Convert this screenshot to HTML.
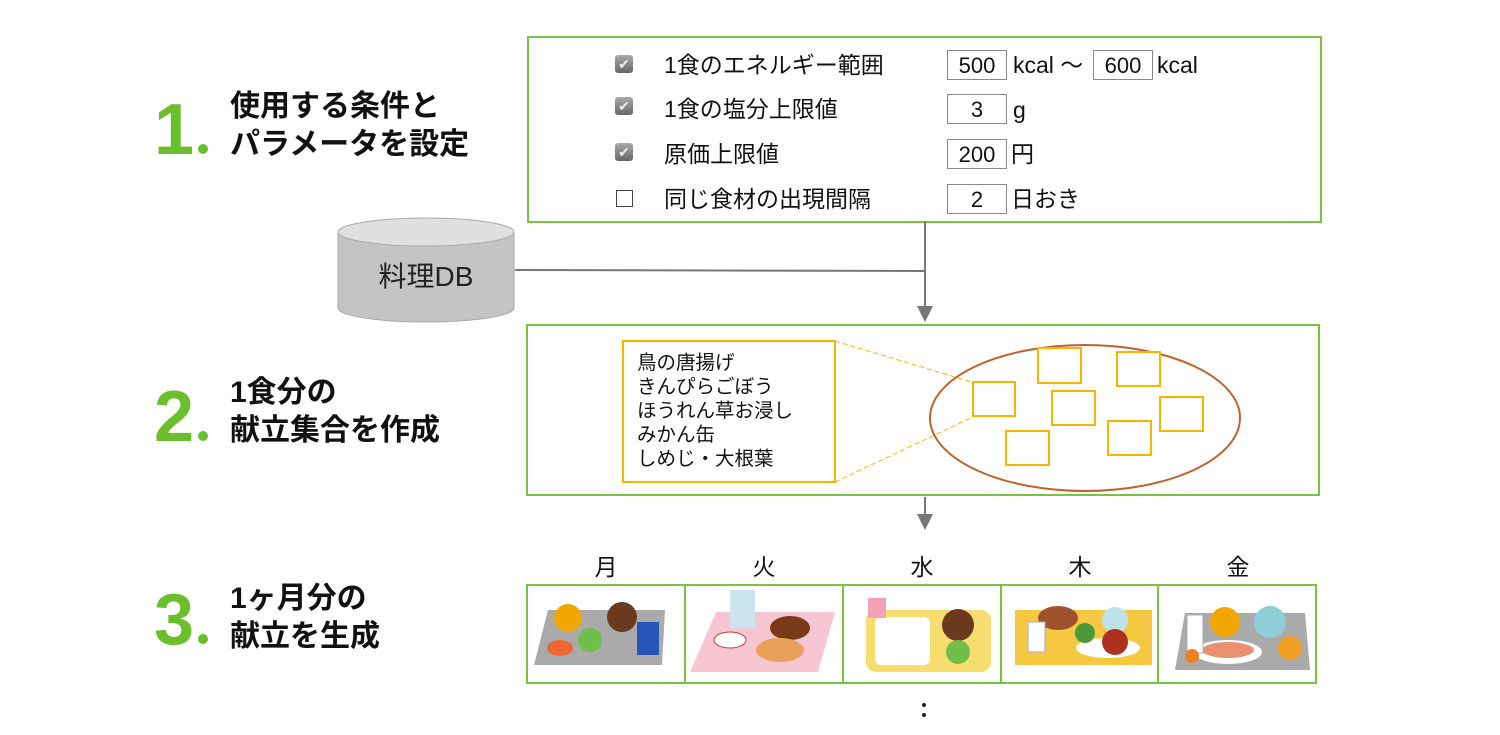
<!DOCTYPE html>
<html><head><meta charset="utf-8"><style>
body{margin:0;width:1500px;height:735px;background:#fff;position:relative;overflow:hidden;font-family:"Liberation Sans","Noto Sans CJK JP",sans-serif;color:#111}
.a{position:absolute}
.num{position:absolute;color:#6cbf2c;font-weight:bold;font-size:72px;line-height:72px}
.dot{display:inline-block;width:10px;height:10px;border-radius:50%;background:#6cbf2c;margin-left:4px}
.h{position:absolute;font-weight:bold;font-size:30px;line-height:38px}
.row{position:absolute;font-size:23px;line-height:28px}
.in{position:absolute;border:1.5px solid #888;height:30px;font-size:22px;line-height:30px;text-align:center;box-sizing:border-box}
.cb{position:absolute;width:18px;height:18px;border-radius:3px;background:linear-gradient(#aaa,#666);color:#eee;font-size:14px;line-height:18px;text-align:center}
.day{position:absolute;top:548px;font-size:23px;width:40px;text-align:center}
</style></head><body>
<div class="num" style="left:154px;top:94px">1<span class="dot"></span></div>
<div class="h" style="left:230px;top:88px">使用する条件と<br>パラメータを設定</div>
<div class="num" style="left:154px;top:381px">2<span class="dot"></span></div>
<div class="h" style="left:230px;top:374px">1食分の<br>献立集合を作成</div>
<div class="num" style="left:154px;top:584px">3<span class="dot"></span></div>
<div class="h" style="left:230px;top:580px">1ヶ月分の<br>献立を生成</div>

<div class="a" style="left:527px;top:36px;width:791px;height:183px;border:2px solid #7cc242"></div>
<div class="cb" style="left:615px;top:55px">✔</div>
<div class="cb" style="left:615px;top:97px">✔</div>
<div class="cb" style="left:615px;top:143px">✔</div>
<div class="a" style="left:616px;top:190px;width:15px;height:15px;border:1.5px solid #444"></div>
<div class="row" style="left:664px;top:51px">1食のエネルギー範囲</div>
<div class="row" style="left:664px;top:95px">1食の塩分上限値</div>
<div class="row" style="left:664px;top:140px">原価上限値</div>
<div class="row" style="left:664px;top:185px">同じ食材の出現間隔</div>
<div class="in" style="left:947px;top:50px;width:60px">500</div>
<div class="row" style="left:1013px;top:51px">kcal ～</div>
<div class="in" style="left:1093px;top:50px;width:60px">600</div>
<div class="row" style="left:1157px;top:51px">kcal</div>
<div class="in" style="left:947px;top:94px;width:60px">3</div>
<div class="row" style="left:1013px;top:96px">g</div>
<div class="in" style="left:947px;top:139px;width:60px">200</div>
<div class="row" style="left:1011px;top:140px">円</div>
<div class="in" style="left:947px;top:184px;width:60px">2</div>
<div class="row" style="left:1011px;top:185px">日おき</div>

<svg class="a" style="left:0;top:0" width="1500" height="735">
<defs><marker id="ar" markerWidth="8" markerHeight="8" refX="6" refY="4" orient="auto"><path d="M0,0L8,4L0,8z" fill="#777"/></marker></defs>
<path d="M338,232V308A88,14 0 0 0 514,308V232" fill="#c4c4c4" stroke="#aaa"/>
<ellipse cx="426" cy="232" rx="88" ry="14" fill="#e0e0e0" stroke="#aaa"/>
<text x="426" y="286" font-size="28" text-anchor="middle" font-family="Liberation Sans,Noto Sans CJK JP,sans-serif" fill="#222">料理DB</text>
<line x1="515" y1="270" x2="925" y2="271" stroke="#777" stroke-width="2"/>
<line x1="925" y1="221" x2="925" y2="318" stroke="#777" stroke-width="2" marker-end="url(#ar)"/>
<line x1="925" y1="497" x2="925" y2="526" stroke="#777" stroke-width="2" marker-end="url(#ar)"/>
<rect x="527" y="325" width="792" height="170" fill="none" stroke="#7cc242" stroke-width="2"/>
<rect x="623" y="341" width="212" height="141" fill="none" stroke="#f7b500" stroke-width="2"/>
<line x1="835" y1="341" x2="975" y2="383" stroke="#f7b500" stroke-dasharray="5,3"/>
<line x1="835" y1="482" x2="975" y2="416" stroke="#f7b500" stroke-dasharray="5,3"/>
<ellipse cx="1085" cy="418" rx="155" ry="73" fill="none" stroke="#c0622a" stroke-width="2"/>
<g fill="#fff" stroke="#f7b500" stroke-width="2">
<rect x="973" y="382" width="42" height="34"/><rect x="1038" y="348" width="43" height="35"/>
<rect x="1117" y="352" width="43" height="34"/><rect x="1052" y="391" width="43" height="34"/>
<rect x="1160" y="397" width="43" height="34"/><rect x="1108" y="421" width="43" height="34"/>
<rect x="1006" y="431" width="43" height="34"/></g>
<text font-size="19.5" font-family="Liberation Sans,Noto Sans CJK JP,sans-serif" fill="#111">
<tspan x="637" y="369">鳥の唐揚げ</tspan><tspan x="637" y="393">きんぴらごぼう</tspan><tspan x="637" y="417">ほうれん草お浸し</tspan><tspan x="637" y="441">みかん缶</tspan><tspan x="637" y="465">しめじ・大根葉</tspan></text>
<g fill="none" stroke="#7cc242" stroke-width="2">
<rect x="527" y="585" width="789" height="98"/>
<line x1="685" y1="585" x2="685" y2="683"/><line x1="843" y1="585" x2="843" y2="683"/>
<line x1="1001" y1="585" x2="1001" y2="683"/><line x1="1158" y1="585" x2="1158" y2="683"/></g>
<polygon points="548,610 665,610 662,665 534,665" fill="#aaa"/>
<circle cx="568" cy="618" r="14" fill="#f0a500"/><circle cx="622" cy="617" r="15" fill="#6b3a1e"/>
<circle cx="590" cy="640" r="12" fill="#6fbf4a"/><rect x="637" y="622" width="22" height="33" fill="#2855b8"/><ellipse cx="560" cy="648" rx="13" ry="8" fill="#e63"/>
<polygon points="716,612 835,612 818,672 690,672" fill="#f7c6d3"/>
<rect x="730" y="590" width="25" height="38" fill="#cde4ef"/><ellipse cx="790" cy="628" rx="20" ry="12" fill="#7a3a1a"/>
<ellipse cx="780" cy="650" rx="24" ry="12" fill="#e8a05a"/><ellipse cx="730" cy="640" rx="16" ry="8" fill="#fff" stroke="#c33"/>
<rect x="866" y="610" width="125" height="62" rx="10" fill="#f7dc6f"/>
<rect x="875" y="617" width="55" height="48" rx="6" fill="#fff"/><circle cx="958" cy="625" r="16" fill="#6b3a1e"/>
<circle cx="958" cy="652" r="12" fill="#6fbf4a"/><rect x="868" y="598" width="18" height="20" fill="#f2a2b4"/>
<rect x="1015" y="610" width="137" height="55" fill="#f5c842"/>
<ellipse cx="1058" cy="618" rx="20" ry="12" fill="#a0522d"/><circle cx="1115" cy="620" r="13" fill="#bde3ea"/>
<ellipse cx="1108" cy="648" rx="32" ry="10" fill="#fff"/><circle cx="1115" cy="642" r="13" fill="#b03020"/>
<rect x="1028" y="622" width="17" height="30" fill="#fff" stroke="#aac"/><circle cx="1085" cy="633" r="10" fill="#4a9a3a"/>
<polygon points="1185,613 1305,613 1310,670 1175,670" fill="#aaa"/>
<circle cx="1225" cy="622" r="15" fill="#f0a500"/><circle cx="1270" cy="622" r="16" fill="#8fd0d8"/>
<ellipse cx="1228" cy="652" rx="34" ry="12" fill="#fff"/><ellipse cx="1228" cy="650" rx="26" ry="8" fill="#e89070"/>
<circle cx="1290" cy="648" r="12" fill="#f0a020"/><rect x="1187" y="615" width="16" height="38" fill="#fff" stroke="#aac"/>
<circle cx="1192" cy="656" r="7" fill="#f08020"/>
<circle cx="924" cy="705" r="2" fill="#222"/><circle cx="924" cy="715" r="2" fill="#222"/>
</svg>
<div class="day" style="left:586px">月</div>
<div class="day" style="left:744px">火</div>
<div class="day" style="left:902px">水</div>
<div class="day" style="left:1060px">木</div>
<div class="day" style="left:1218px">金</div>
</body></html>
